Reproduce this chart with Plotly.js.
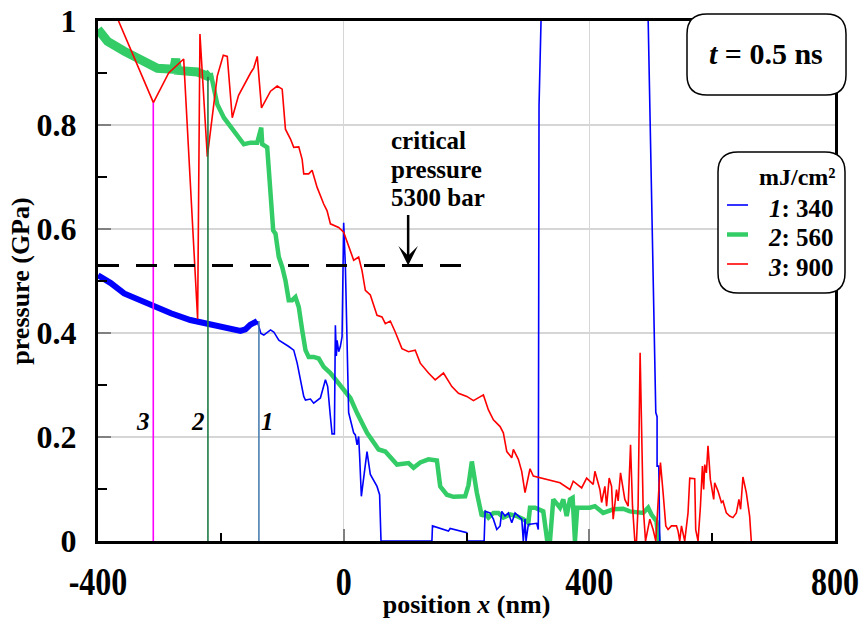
<!DOCTYPE html>
<html>
<head>
<meta charset="utf-8">
<script src="https://cdn.plot.ly/plotly-3.0.1.min.js"></script>
<style>
  html, body { margin: 0; padding: 0; background: #fff; }
  #chart { width: 860px; height: 619px; }
</style>
</head>
<body>
<div id="chart"></div>
<script>
// Pressure profiles p(x) at t = 0.5 ns for three laser fluences.

// Curve 1: 340 mJ/cm2 — noisy thick part, then the thin tail
const x340Band = [-400, -379.2, -357.5, -329.3, -308.8, -281.3, -249.7, -222.0, -200.5, -184.3, -168.1, -160.0, -151.9, -140.7];
const p340Band = [0.511, 0.496, 0.476, 0.461, 0.452, 0.438, 0.425, 0.417, 0.411, 0.407, 0.404, 0.407, 0.416, 0.423];
const x340 = [-140.7, -134.8, -130.0, -119.1, -113.8, -105.6, -89.4, -81.3, -75.7, -70.4, -65.0, -62.2, -54.1, -48.8, -37.9, -29.7, -26.0, -21.6, -18.9, -15.1,
  -13.5, -11.9, -10.7, -8.1, -5.4, -2.6, 0, 2.8, 5.5, 8.1, 8.1, 16.3, 19.0, 21.8, 24.4, 26.0, 28.8, 38.0, 43.4, 54.3,
  58.5, 60.8, 143.7, 144.6, 170.6, 173.4, 200.5, 201.5, 228.7, 230.3, 238.4, 243.8, 249.3, 254.7, 257.4, 262.8, 268.2, 273.7, 279.1, 290.0,
  292.5, 295.3, 296.9, 300.7, 314.3, 316.9, 318.1, 322.1, 495.2, 508.2, 510.3, 510.3, 513.1, 514.7];
const p340 = [0.423, 0.399, 0.396, 0.406, 0.402, 0.386, 0.374, 0.367, 0.342, 0.310, 0.278, 0.271, 0.273, 0.265, 0.275, 0.310, 0.297, 0.239, 0.206, 0.206,
  0.415, 0.356, 0.386, 0.364, 0.374, 0.393, 0.612, 0.527, 0.400, 0.278, 0.247, 0.208, 0.204, 0.185, 0.201, 0.163, 0.086, 0.172, 0.128, 0.105,
  0.089, 0, 0, 0.029, 0.019, 0.024, 0.016, 0, 0, 0.057, 0.054, 0.042, 0.022, 0.029, 0.057, 0.048, 0.054, 0.035, 0.054, 0.042,
  0, 0.042, 0, 0.032, 0.034, 0.022, 0.837, 1.038, 1.038, 0.247, 0.239, 0.144, 0.144, 0];

// Curve 2: 560 mJ/cm2
const x560Band = [-400, -384.5, -357.5, -329.3, -303.3, -276.8, -273.5, -270.3, -238.3, -222.0, -216.6];
const p560Band = [0.984, 0.961, 0.942, 0.923, 0.909, 0.907, 0.927, 0.905, 0.902, 0.894, 0.900];
const x560 = [-216.6, -205.8, -195.0, -178.8, -162.5, -151.6, -140.7, -134.2, -132.6, -124.5, -119.1, -114.7, -111.0, -105.6, -100.1, -94.8, -89.4, -83.9, -78.5, -73.1,
  -67.6, -62.2, -56.9, -48.8, -40.6, -32.5, -21.6, -10.7, 0, 10.9, 21.8, 38.0, 56.9, 67.8, 86.8, 105.6, 113.8, 124.7, 138.1, 151.8,
  157.2, 168.0, 178.8, 197.8, 203.2, 208.7, 216.8, 224.9, 230.3, 235.7, 243.8, 251.9, 260.0, 270.9, 281.8, 292.5, 300.7, 303.4, 311.6, 325.0,
  331.5, 335.9, 341.3, 352.2, 357.6, 363.1, 368.4, 372.8, 376.6, 380.3, 400.9, 409.1, 422.6, 438.8, 455.1, 465.9, 487.6, 495.8, 501.2, 509.3, 513.1];
const p560 = [0.900, 0.840, 0.814, 0.789, 0.763, 0.766, 0.766, 0.795, 0.763, 0.757, 0.661, 0.597, 0.591, 0.546, 0.527, 0.501, 0.463, 0.463, 0.469, 0.450,
  0.406, 0.367, 0.354, 0.354, 0.351, 0.335, 0.323, 0.307, 0.291, 0.275, 0.246, 0.208, 0.176, 0.172, 0.147, 0.150, 0.141, 0.151, 0.157, 0.155,
  0.105, 0.089, 0.085, 0.086, 0.107, 0.153, 0.093, 0.048, 0.054, 0.045, 0.054, 0.054, 0.045, 0.051, 0.048, 0.042, 0.035, 0.064, 0.064, 0.057,
  0, 0, 0.080, 0.064, 0.080, 0.048, 0.080, 0.083, 0, 0.064, 0.064, 0.067, 0.054, 0.061, 0.062, 0.057, 0.054, 0.064, 0.051, 0.038, 0];

// Curve 3: 900 mJ/cm2
const x900 = [-372.7, -309.8, -284.9, -260.5, -237.8, -234.0, -222.0, -205.8, -196.0, -189.5, -181.4, -171.1, -151.6, -146.3, -140.7, -133.8, -119.1, -108.2, -100.1, -94.8,
  -86.6, -81.3, -73.1, -67.6, -65.0, -56.9, -51.4, -43.2, -32.5, -27.0, -21.6, -8.1, 0, 8.1, 16.3, 24.4, 29.9, 35.3, 43.4, 54.3,
  62.4, 67.8, 75.9, 84.0, 94.9, 105.6, 116.5, 124.7, 138.1, 149.0, 162.5, 176.2, 186.9, 200.5, 211.3, 227.5, 235.7, 243.8, 254.7, 260.0,
  265.6, 273.7, 276.3, 284.4, 289.9, 295.3, 303.4, 308.8, 325.0, 333.2, 352.2, 368.4, 373.8, 387.5, 395.6, 406.3, 409.1, 417.2, 420.0, 425.3,
  428.1, 432.3, 436.2, 438.8, 444.3, 446.9, 450.8, 457.8, 463.2, 467.1, 470.3, 474.1, 476.8, 479.4, 482.7, 487.6, 491.5, 498.5, 503.8, 508.2,
  512.0, 515.8, 520.1, 524.5, 528.2, 533.7, 541.9, 544.5, 547.2, 550.0, 555.3, 558.1, 560.7, 563.5, 571.6, 573.2, 577.0, 580.9, 584.1, 586.2,
  587.9, 590.6, 593.2, 597.1, 602.5, 604.1, 609.5, 615.0, 617.6, 623.1, 628.5, 633.8, 639.4, 643.6, 646.3, 650.1, 655.6, 661.0, 663.7];
const p900 = [1.017, 0.843, 0.900, 0.927, 0.427, 0.975, 0.739, 0.894, 0.934, 0.932, 0.814, 0.857, 0.900, 0.910, 0.932, 0.833, 0.865, 0.875, 0.869, 0.792,
  0.773, 0.757, 0.758, 0.734, 0.706, 0.706, 0.713, 0.680, 0.648, 0.635, 0.610, 0.603, 0.594, 0.568, 0.540, 0.546, 0.520, 0.482, 0.473, 0.434,
  0.431, 0.418, 0.423, 0.402, 0.370, 0.364, 0.367, 0.342, 0.323, 0.310, 0.323, 0.297, 0.284, 0.278, 0.270, 0.281, 0.252, 0.233, 0.220, 0.208,
  0.172, 0.160, 0.176, 0.157, 0.134, 0.093, 0.139, 0.125, 0.120, 0.118, 0.112, 0.099, 0.115, 0.102, 0.121, 0.109, 0.134, 0.099, 0.074, 0.105,
  0.067, 0.121, 0.105, 0.042, 0.099, 0.077, 0.131, 0.080, 0.067, 0.185, 0.067, 0, 0, 0.067, 0.362, 0.067, 0, 0.042, 0.022, 0,
  0.086, 0.151, 0.093, 0.029, 0.022, 0.029, 0.029, 0.019, 0, 0.029, 0, 0.029, 0.054, 0.121, 0.120, 0.022, 0, 0.067, 0.144, 0.099,
  0.147, 0.131, 0.183, 0.118, 0.080, 0.112, 0.096, 0.074, 0.077, 0.054, 0.048, 0.045, 0.054, 0.080, 0.061, 0.123, 0.093, 0.048, 0];

// Front markers for curves 1, 2, 3: position (nm) and the pressure where each meets its curve
const frontLabels = ['1', '2', '3'];
const frontX = [-138, -221, -310];
const frontTop = [0.423, 0.893, 0.843];

// Critical pressure threshold
const criticalBar = 5300;
const criticalX = [-400, 200];

// Legend entries
const fluences = [340, 560, 900];
const curveIds = ['1', '2', '3'];

// Axis ticks
const xTickVals = [-400, 0, 400, 800];
const xTickText = ['-400', '0', '400', '800'];
const yTickVals = [0, 0.2, 0.4, 0.6, 0.8, 1];
const yTickText = ['0', '0.2', '0.4', '0.6', '0.8', '1'];

const SERIF = 'Liberation Serif, Times New Roman, serif';
const BLUE = '#0000ff', GREEN = '#33cc66', RED = '#ff0000';
const FRONT_COLORS = ['#4a7fb0', '#1e7a46', '#ff00ff'];

// plot-area geometry (pixels) for placing boxes in paper units
const M = { l: 98, r: 25, t: 21, b: 78 };
const PW = 860 - M.l - M.r, PH = 619 - M.t - M.b;
const px = v => (v - M.l) / PW;
const py = v => (619 - M.b - v) / PH;

function roundRect(x0p, y0p, x1p, y1p, r) {
  const x0 = px(x0p), x1 = px(x1p), yt = py(y0p), yb = py(y1p);
  const rx = r / PW, ry = r / PH;
  return `M${x0 + rx},${yt} L${x1 - rx},${yt} Q${x1},${yt} ${x1},${yt - ry} ` +
         `L${x1},${yb + ry} Q${x1},${yb} ${x1 - rx},${yb} L${x0 + rx},${yb} ` +
         `Q${x0},${yb} ${x0},${yb + ry} L${x0},${yt - ry} Q${x0},${yt} ${x0 + rx},${yt} Z`;
}

const traces = [];
traces.push({ x: x560Band, y: p560Band, mode: 'lines', line: { color: GREEN, width: 9 }, hoverinfo: 'skip' });
traces.push({ x: x560, y: p560, mode: 'lines', line: { color: GREEN, width: 4.5 }, hoverinfo: 'skip' });
traces.push({ x: x340Band, y: p340Band, mode: 'lines', line: { color: BLUE, width: 6 }, hoverinfo: 'skip' });
traces.push({ x: x340, y: p340, mode: 'lines', line: { color: BLUE, width: 1.6 }, hoverinfo: 'skip' });
traces.push({ x: x900, y: p900, mode: 'lines', line: { color: RED, width: 1.6 }, hoverinfo: 'skip' });
frontX.forEach((fx, i) => {
  traces.push({ x: [fx, fx], y: [0, frontTop[i]], mode: 'lines',
    line: { color: FRONT_COLORS[i], width: 1.6 }, hoverinfo: 'skip' });
});
const critP = criticalBar / 10000; // bar -> GPa
traces.push({ x: criticalX, y: [critP, critP], mode: 'lines',
  line: { color: '#000', width: 3, dash: '21px,17px' }, hoverinfo: 'skip' });

const annotations = [];
const shapes = [];
const boldFont = (size) => ({ family: SERIF, size: size, weight: 'bold', color: '#000' });

// front labels
const frontLabelX = [-124, -238, -327];
frontLabels.forEach((t, i) => {
  annotations.push({ x: frontLabelX[i], y: 0.229, xref: 'x', yref: 'y', text: '<i>' + t + '</i>',
    xanchor: 'center', yanchor: 'middle', showarrow: false, font: boldFont(25) });
});

// critical pressure note and arrow
['critical', 'pressure', criticalBar + ' bar'].forEach((t, i) => {
  annotations.push({ x: 73, y: [0.770, 0.714, 0.660][i], xref: 'x', yref: 'y', text: t,
    xanchor: 'left', yanchor: 'middle', showarrow: false, font: boldFont(25) });
});
annotations.push({ x: 105, y: critP, xref: 'x', yref: 'y', text: '', showarrow: true,
  ax: 0, ay: -52, arrowhead: 3, arrowsize: 1.3, arrowwidth: 2.5, arrowcolor: '#000', standoff: 0 });

// time box
shapes.push({ type: 'path', xref: 'paper', yref: 'paper', path: roundRect(687, 14, 846, 95, 20),
  line: { color: '#000', width: 1.5 }, fillcolor: '#fff', layer: 'above' });
annotations.push({ x: px(766), y: py(53), xref: 'paper', yref: 'paper', text: '<i>t</i> = 0.5 ns',
  xanchor: 'center', yanchor: 'middle', showarrow: false, font: boldFont(30) });

// legend box
shapes.push({ type: 'path', xref: 'paper', yref: 'paper', path: roundRect(718, 152, 845, 293, 20),
  line: { color: '#000', width: 1.5 }, fillcolor: '#fff', layer: 'above' });
annotations.push({ x: px(838), y: py(177), xref: 'paper', yref: 'paper', text: 'mJ/cm²',
  xanchor: 'right', yanchor: 'middle', showarrow: false, font: boldFont(24) });
const legColors = [BLUE, GREEN, RED];
const legWidths = [1.6, 4.5, 1.6];
fluences.forEach((f, i) => {
  const yc = 208 + i * 29.5;
  annotations.push({ x: px(836), y: py(yc), xref: 'paper', yref: 'paper',
    text: '<i>' + curveIds[i] + '</i>: ' + f, xanchor: 'right', yanchor: 'middle', showarrow: false,
    font: boldFont(25) });
  shapes.push({ type: 'line', xref: 'paper', yref: 'paper', x0: px(727), x1: px(748),
    y0: py(yc - 3), y1: py(yc - 3), line: { color: legColors[i], width: legWidths[i] }, layer: 'above' });
});

const layout = {
  width: 860, height: 619,
  margin: M,
  paper_bgcolor: '#fff', plot_bgcolor: '#fff',
  showlegend: false,
  xaxis: {
    range: [-400, 800], tickmode: 'array', tickvals: xTickVals, ticktext: xTickText,
    showgrid: true, gridcolor: '#d6d6d6', gridwidth: 1.5, zeroline: false,
    ticks: 'inside', ticklen: 12, tickwidth: 2, tickcolor: '#808080',
    minor: { tickmode: 'linear', tick0: -400, dtick: 200, ticks: 'inside', ticklen: 8, tickwidth: 2, tickcolor: '#000', showgrid: false },
    showline: true, linecolor: '#000', linewidth: 3, mirror: true,
    tickfont: boldFont(32), ticklabelstandoff: 10,
    title: { text: 'position <i>x</i> (nm)', font: boldFont(26), standoff: 2 }
  },
  yaxis: {
    range: [0, 1], tickmode: 'array', tickvals: yTickVals, ticktext: yTickText,
    showgrid: true, gridcolor: '#d6d6d6', gridwidth: 1.5, zeroline: false,
    ticks: 'inside', ticklen: 13, tickwidth: 2, tickcolor: '#808080',
    minor: { tickmode: 'linear', tick0: 0, dtick: 0.1, ticks: 'inside', ticklen: 9, tickwidth: 2, tickcolor: '#000', showgrid: false },
    showline: true, linecolor: '#000', linewidth: 3, mirror: true,
    tickfont: boldFont(32), ticklabelstandoff: 12,
    title: { text: 'pressure (GPa)', font: boldFont(26), standoff: 0 }
  },
  annotations: annotations,
  shapes: shapes
};

Plotly.newPlot('chart', traces, layout, { staticPlot: true, displayModeBar: false }).then(gd => {
  // x tick numerals are set in a tall, narrow cut: stretch them vertically about their centre
  gd.querySelectorAll('.xtick text').forEach(t => {
    const b = t.getBBox();
    const cy = b.y + b.height / 2;
    const base = t.getAttribute('transform') || '';
    t.setAttribute('transform', `${base} translate(0,${cy}) scale(1,1.25) translate(0,${-cy})`);
  });
});
</script>
</body>
</html>
